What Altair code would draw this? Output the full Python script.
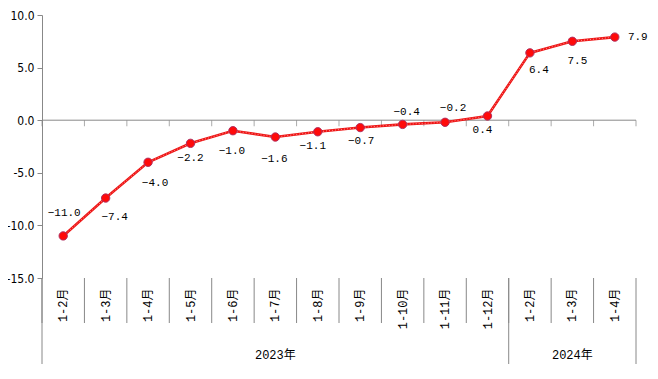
import altair as alt
import pandas as pd

years = ["2023"] * 11 + ["2024"] * 3
months = ["1-2月", "1-3月", "1-4月", "1-5月", "1-6月", "1-7月", "1-8月", "1-9月",
          "1-10月", "1-11月", "1-12月", "1-2月", "1-3月", "1-4月"]
values = [-11.0, -7.4, -4.0, -2.2, -1.0, -1.6, -1.1, -0.7, -0.4, -0.2, 0.4, 6.4, 7.5, 7.9]
label_dx = [1, 9, 7, 0, -1, -1, -5, 1, 4, 8, -5, 9, 5, 23]
label_dy = [-23, 19, 21, 15, 20, 22, 14, 13, -12, -14, 14, 17, 20, 0]
year_names = ["2023", "2024"]
year_labels = ["2023年", "2024年"]

W, H = 594, 263
keys = [f"{y}|{m}" for y, m in zip(years, months)]
df = pd.DataFrame({"key": keys, "value": values, "dx": label_dx, "dy": label_dy})

first_keys, mid_keys = [], []
for yn in year_names:
    ks = [k for k, y in zip(keys, years) if y == yn]
    first_keys.append(ks[0])
    mid_keys.append(ks[(len(ks) - 1) // 2])
groups = pd.DataFrame({"key": mid_keys, "label": year_labels})
starts = pd.DataFrame({"key": first_keys})
ends = pd.DataFrame({"key": [keys[-1]]})

xscale = alt.Scale(domain=keys, paddingInner=0, paddingOuter=0)
yscale = alt.Scale(domain=[-15, 10])
GRAY = "#888888"
MONO_CJK = "Liberation Mono, Noto Sans CJK SC"

base = alt.Chart(df)

x_main = alt.X(
    "key:N", scale=xscale, sort=keys, title=None,
    axis=alt.Axis(
        orient="bottom", domain=False, ticks=False, labelAngle=270,
        labelPadding=10, labelExpr="split(datum.label, '|')[1]",
        labelFont=MONO_CJK, labelFontSize=12, labelColor="#000000",
    ),
)

line = base.mark_line(color="#ee1515", strokeWidth=2.6).encode(
    x=x_main,
    y=alt.Y("value:Q", scale=yscale, title=None,
            axis=alt.Axis(values=[-15, -10, -5, 0, 5, 10], grid=False, tickSize=5,
                          domainColor=GRAY, tickColor=GRAY, labelPadding=3,
                          labelExpr="replace(format(datum.value, '.1f'), '\u2212', '-')",
                          labelFont="DejaVu Sans Condensed", labelFontSize=12,
                          labelColor="#000000")),
)
line_inner = base.mark_line(color="#ffb0b0", strokeWidth=0.8, strokeDash=[1, 2]).encode(
    x=alt.X("key:N", scale=xscale, sort=keys), y=alt.Y("value:Q", scale=yscale)
)

zero_rule = alt.Chart(pd.DataFrame({"v": [0]})).mark_rule(color=GRAY, strokeWidth=1).encode(
    y=alt.Y("v:Q", scale=yscale)
)

zero_ticks = base.mark_tick(orient="vertical", size=6, thickness=1, color=GRAY, yOffset=3).encode(
    x=alt.X("key:N", scale=xscale, sort=keys, bandPosition=0),
    y=alt.datum(0, scale=yscale),
)
zero_tick_end = alt.Chart(ends).mark_tick(orient="vertical", size=6, thickness=1, color=GRAY, yOffset=3).encode(
    x=alt.X("key:N", scale=xscale, sort=keys, bandPosition=1),
    y=alt.datum(0, scale=yscale),
)

points = base.mark_point(filled=True, size=70, fill="#ff0a0a", stroke="#b03060",
                         strokeWidth=1, opacity=1).encode(
    x=alt.X("key:N", scale=xscale, sort=keys), y=alt.Y("value:Q", scale=yscale)
)

labels = base.mark_text(font="Liberation Mono", fontSize=11, color="#000000",
                        align="center", baseline="middle",
                        dx=alt.ExprRef("datum.dx"), dy=alt.ExprRef("datum.dy")).encode(
    x=alt.X("key:N", scale=xscale, sort=keys),
    y=alt.Y("value:Q", scale=yscale),
    text=alt.Text("value:Q", format=".1f"),
)

short_sep = base.mark_rule(color=GRAY, strokeWidth=1).encode(
    x=alt.X("key:N", scale=xscale, sort=keys, bandPosition=0),
    y=alt.value(H), y2=alt.value(H + 45),
)
long_sep = alt.Chart(starts).mark_rule(color=GRAY, strokeWidth=1).encode(
    x=alt.X("key:N", scale=xscale, sort=keys, bandPosition=0),
    y=alt.value(H), y2=alt.value(H + 89),
)
long_sep_end = alt.Chart(ends).mark_rule(color=GRAY, strokeWidth=1).encode(
    x=alt.X("key:N", scale=xscale, sort=keys, bandPosition=1),
    y=alt.value(H), y2=alt.value(H + 89),
)

year_text = alt.Chart(groups).mark_text(font=MONO_CJK, fontSize=12, color="#000000",
                                        align="center", baseline="middle").encode(
    x=alt.X("key:N", scale=xscale, sort=keys),
    y=alt.value(H + 77),
    text="label:N",
)

chart = alt.layer(
    zero_rule, zero_ticks, zero_tick_end, short_sep, long_sep, long_sep_end,
    line, line_inner, points, labels, year_text,
).properties(
    width=W, height=H,
    autosize=alt.AutoSizeParams(type="none"),
    padding={"left": 34, "top": 7, "right": 14, "bottom": 86},
).configure_view(stroke=None)

chart.save("out.html", embed_options={"renderer": "svg", "actions": False})
